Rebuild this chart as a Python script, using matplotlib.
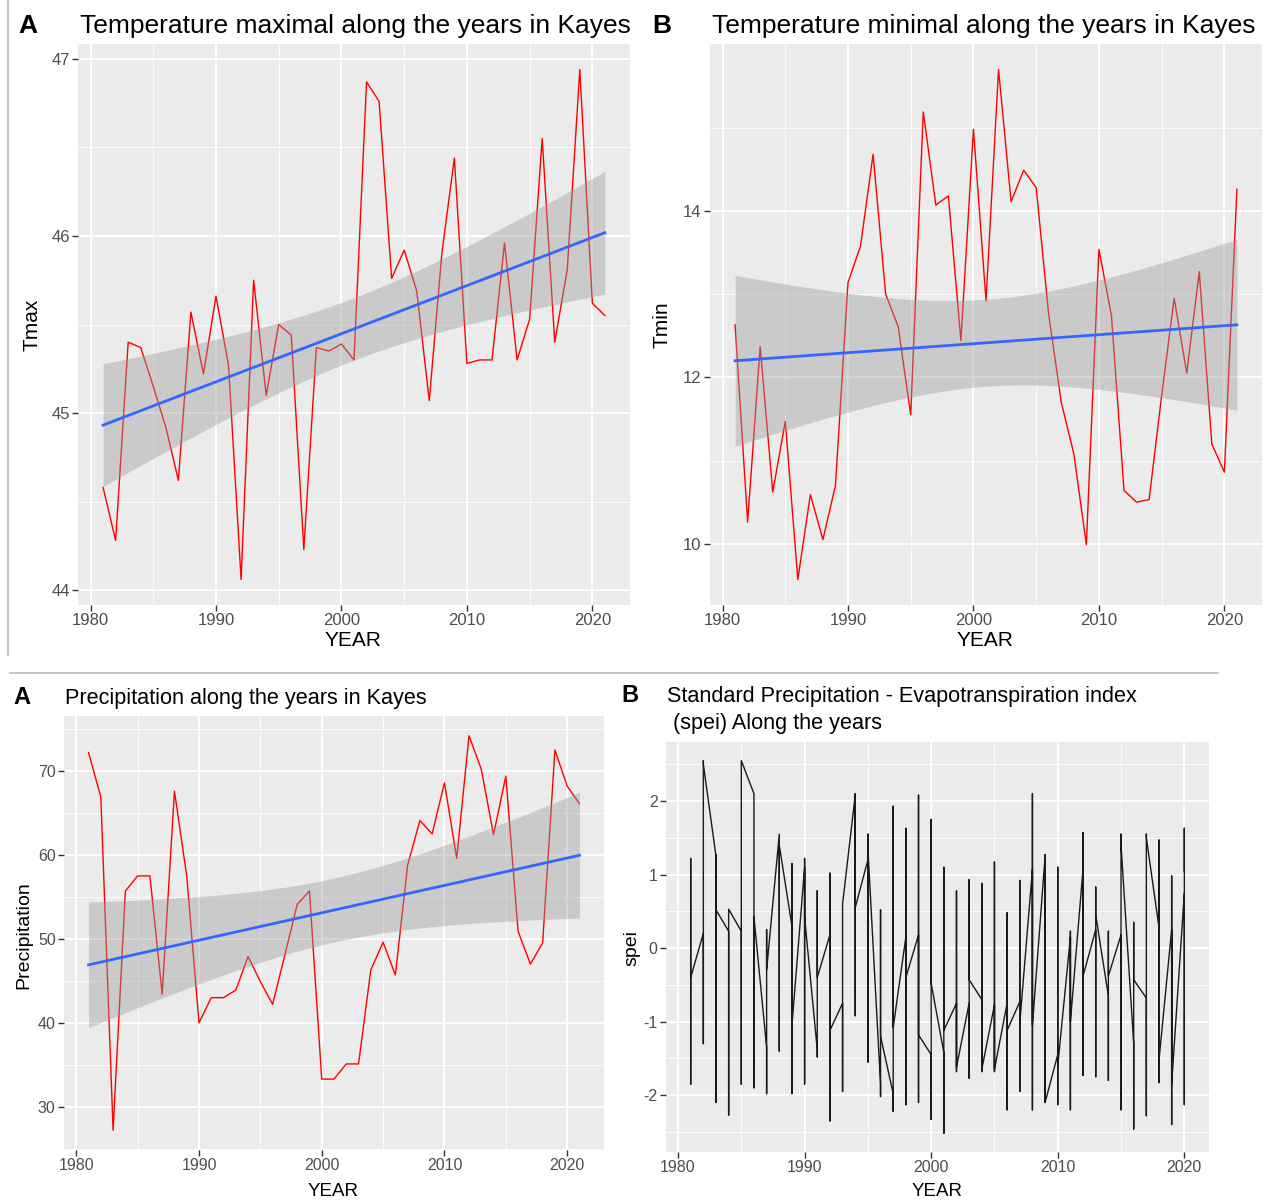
import numpy as np
import matplotlib.pyplot as plt
from matplotlib.lines import Line2D

plt.rcParams['axes.unicode_minus'] = False

# yearly values
years = np.arange(1981, 2022)
tmax = [44.58, 44.28, 45.40, 45.37, 45.15, 44.92, 44.62, 45.57, 45.22, 45.66,
        45.27, 44.06, 45.75, 45.10, 45.50, 45.44, 44.23, 45.37, 45.35, 45.39,
        45.30, 46.87, 46.76, 45.76, 45.92, 45.69, 45.07, 45.90, 46.44, 45.28,
        45.30, 45.30, 45.96, 45.30, 45.53, 46.55, 45.40, 45.81, 46.94, 45.62,
        45.55]
tmin = [12.63, 10.26, 12.37, 10.62, 11.47, 9.57, 10.59, 10.05, 10.70, 13.14,
        13.58, 14.68, 13.00, 12.61, 11.55, 15.19, 14.07, 14.18, 12.44, 14.98,
        12.92, 15.70, 14.11, 14.49, 14.28, 12.75, 11.70, 11.08, 9.99, 13.54,
        12.74, 10.64, 10.50, 10.53, 11.78, 12.95, 12.05, 13.27, 11.20, 10.86,
        14.26]
precip = [72.2, 66.9, 27.2, 55.7, 57.5, 57.5, 43.4, 67.6, 57.5, 40.0,
          43.0, 43.0, 43.9, 47.9, 44.9, 42.2, 48.1, 54.1, 55.7, 33.3,
          33.3, 35.1, 35.1, 46.3, 49.6, 45.7, 58.8, 64.1, 62.5, 68.6,
          59.6, 74.2, 70.2, 62.4, 69.4, 50.9, 47.0, 49.5, 72.5, 68.2,
          66.1]

# spei: monthly values per year, summarised as first / lowest / highest / last
spei_years = np.arange(1981, 2021)
spei_first = [-0.40, 0.20, 1.25, 0.23, 0.23, 2.10, -1.35, 1.55, 0.30, 1.10,
              -1.38, 0.18, -0.75, 2.08, 1.20, -1.85, -1.98, 0.15, 0.18, -1.45,
              -1.42, -0.75, -0.75, -0.70, -0.77, -0.75, -0.73, 1.07, 1.25, -1.45,
              0.15, 1.08, 0.25, -0.65, 0.18, -1.30, -0.68, 0.28, 0.25, 0.75]
spei_low = [-1.85, -1.30, -2.10, -2.27, -1.85, -1.90, -1.98, -1.40, -1.98, -1.85,
            -1.48, -2.35, -1.95, -0.92, -1.55, -2.02, -2.22, -2.13, -2.10, -2.33,
            -2.52, -1.68, -1.77, -1.68, -1.68, -2.20, -1.95, -2.20, -2.10, -2.13,
            -2.20, -1.73, -1.75, -1.80, -2.20, -2.46, -2.28, -1.83, -2.40, -2.13]
spei_high = [1.22, 2.55, 1.27, 0.53, 2.55, 2.10, 0.25, 1.55, 1.15, 1.22,
             0.78, 1.02, 0.60, 2.10, 1.55, 0.52, 1.93, 1.63, 2.08, 1.75,
             1.10, 0.78, 0.93, 0.88, 1.17, 0.48, 0.92, 2.10, 1.27, 1.10,
             0.23, 1.57, 0.83, 0.23, 1.55, 0.35, 1.55, 1.47, 0.98, 1.63]
spei_last = [-0.40, 2.50, 0.52, 0.53, 2.55, 0.42, -0.30, 1.40, -1.05, 0.42,
             -0.40, -1.12, 0.60, 0.55, 1.35, -1.20, -1.08, -0.40, -1.18, -0.48,
             -1.12, -1.62, -0.43, -1.65, -1.65, -1.12, -1.02, -1.05, -2.10, -1.60,
             -1.00, -0.38, 0.45, -0.38, 1.40, -0.43, 1.50, -1.52, -1.85, 1.05]

W, H = 1274, 1202
fig = plt.figure(figsize=(W / 100, H / 100), dpi=100)

FONT = ['Liberation Sans', 'DejaVu Sans']


def box(x0, y0, x1, y1):
    return [x0 / W, 1 - y1 / H, (x1 - x0) / W, (y1 - y0) / H]


def ftext(x, y, s, **kw):
    kw.setdefault('family', FONT)
    return fig.text(x / W, 1 - y / H, s, **kw)


def gg(ax, size):
    ax.set_facecolor('#EBEBEB')
    for sp in ax.spines.values():
        sp.set_visible(False)
    ax.grid(True, which='major', color='white', lw=1.3)
    ax.grid(True, which='minor', color='white', lw=0.6)
    ax.set_axisbelow(True)
    ax.tick_params(which='major', length=4, width=1, color='#333333',
                   labelcolor='#4D4D4D', labelsize=size, pad=2,
                   labelfontfamily=FONT)
    ax.tick_params(which='minor', length=0)
    ax.set_xticks([1980, 1990, 2000, 2010, 2020])
    ax.set_xticks([1985, 1995, 2005, 2015], minor=True)


def expand(lo, hi, f=0.05):
    d = (hi - lo) * f
    return lo - d, hi + d


def smooth_panel(ax, x, y, tval):
    x = np.asarray(x, float)
    y = np.asarray(y, float)
    ax.plot(x, y, color='red', lw=1.0, zorder=2)
    b, a = np.polyfit(x, y, 1)
    n = len(x)
    s = np.sqrt(np.sum((y - (a + b * x)) ** 2) / (n - 2))
    xs = np.linspace(x.min(), x.max(), 80)
    fit = a + b * xs
    se = s * np.sqrt(1 / n + (xs - x.mean()) ** 2 / np.sum((x - x.mean()) ** 2))
    lo, hi = fit - tval * se, fit + tval * se
    ax.fill_between(xs, lo, hi, color='#999999', alpha=0.4, lw=0, zorder=3)
    ax.plot(xs, fit, color='#3366FF', lw=2.0, zorder=4)
    ax.set_xlim(*expand(x.min(), x.max()))
    ax.set_ylim(*expand(min(y.min(), lo.min()), max(y.max(), hi.max())))


# ---- top A : Tmax
ax1 = fig.add_axes(box(78, 44, 630, 605))
gg(ax1, 12)
smooth_panel(ax1, years, tmax, 2.0227)
ax1.set_yticks([44, 45, 46, 47])
ax1.set_yticks([44.5, 45.5, 46.5], minor=True)
ftext(28, 33, 'A', ha='center', va='baseline', fontsize=19, fontweight='bold')
ftext(80, 33, 'Temperature maximal along the years in Kayes', ha='left', va='baseline',
      fontsize=19)
ftext(32, 325, 'Tmax', ha='center', va='center', rotation=90, fontsize=15)
ftext(353, 640, 'YEAR', ha='center', va='center', fontsize=15)

# ---- top B : Tmin
ax2 = fig.add_axes(box(710, 44, 1262, 605))
gg(ax2, 12)
smooth_panel(ax2, years, tmin, 2.0227)
ax2.set_yticks([10, 12, 14])
ax2.set_yticks([11, 13, 15], minor=True)
ftext(662, 33, 'B', ha='center', va='baseline', fontsize=19, fontweight='bold')
ftext(712, 33, 'Temperature minimal along the years in Kayes', ha='left', va='baseline',
      fontsize=19)
ftext(662, 325, 'Tmin', ha='center', va='center', rotation=90, fontsize=15)
ftext(985, 640, 'YEAR', ha='center', va='center', fontsize=15)

# ---- bottom A : precipitation
ax3 = fig.add_axes(box(64, 716, 604, 1150))
gg(ax3, 11.5)
smooth_panel(ax3, years, precip, 2.0227)
ax3.set_yticks([30, 40, 50, 60, 70])
ax3.set_yticks([25, 35, 45, 55, 65, 75], minor=True)
ftext(22, 704, 'A', ha='center', va='baseline', fontsize=17, fontweight='bold')
ftext(65, 704, 'Precipitation along the years in Kayes', ha='left', va='baseline',
      fontsize=15.6)
ftext(24, 935, 'Precipitation', ha='center', va='center', rotation=90, fontsize=14)
ftext(333, 1191, 'YEAR', ha='center', va='center', fontsize=13.5)

# ---- bottom B : spei
ax4 = fig.add_axes(box(666, 742, 1209, 1152))
gg(ax4, 11.5)
sx, sy = [], []
for yr, a, lo, hi, z in zip(spei_years, spei_first, spei_low, spei_high, spei_last):
    sx += [yr] * 4
    sy += [a, lo, hi, z]
ax4.plot(sx, sy, color='#1a1a1a', lw=1.0)
ax4.set_xlim(*expand(min(spei_years), max(spei_years)))
ax4.set_ylim(*expand(min(spei_low), max(spei_high)))
ax4.set_yticks([-2, -1, 0, 1, 2])
ax4.set_yticks([-2.5, -1.5, -0.5, 0.5, 1.5, 2.5], minor=True)
ftext(630, 702, 'B', ha='center', va='baseline', fontsize=17, fontweight='bold')
ftext(667, 702, 'Standard Precipitation - Evapotranspiration index', ha='left',
      va='baseline', fontsize=15.6)
ftext(667, 729, ' (spei) Along the years', ha='left', va='baseline', fontsize=15.6)
ftext(632, 948, 'spei', ha='center', va='center', rotation=90, fontsize=14)
ftext(937, 1191, 'YEAR', ha='center', va='center', fontsize=13.5)

# frame lines left over from the composed figure
fig.add_artist(Line2D([8 / W, 8 / W], [1, 1 - 655 / H], color='#BBBBBB', lw=1.2))
fig.add_artist(Line2D([10 / W, 1218 / W], [1 - 673 / H, 1 - 673 / H], color='#BBBBBB', lw=1.2))

fig.savefig('out.png', dpi=100)
